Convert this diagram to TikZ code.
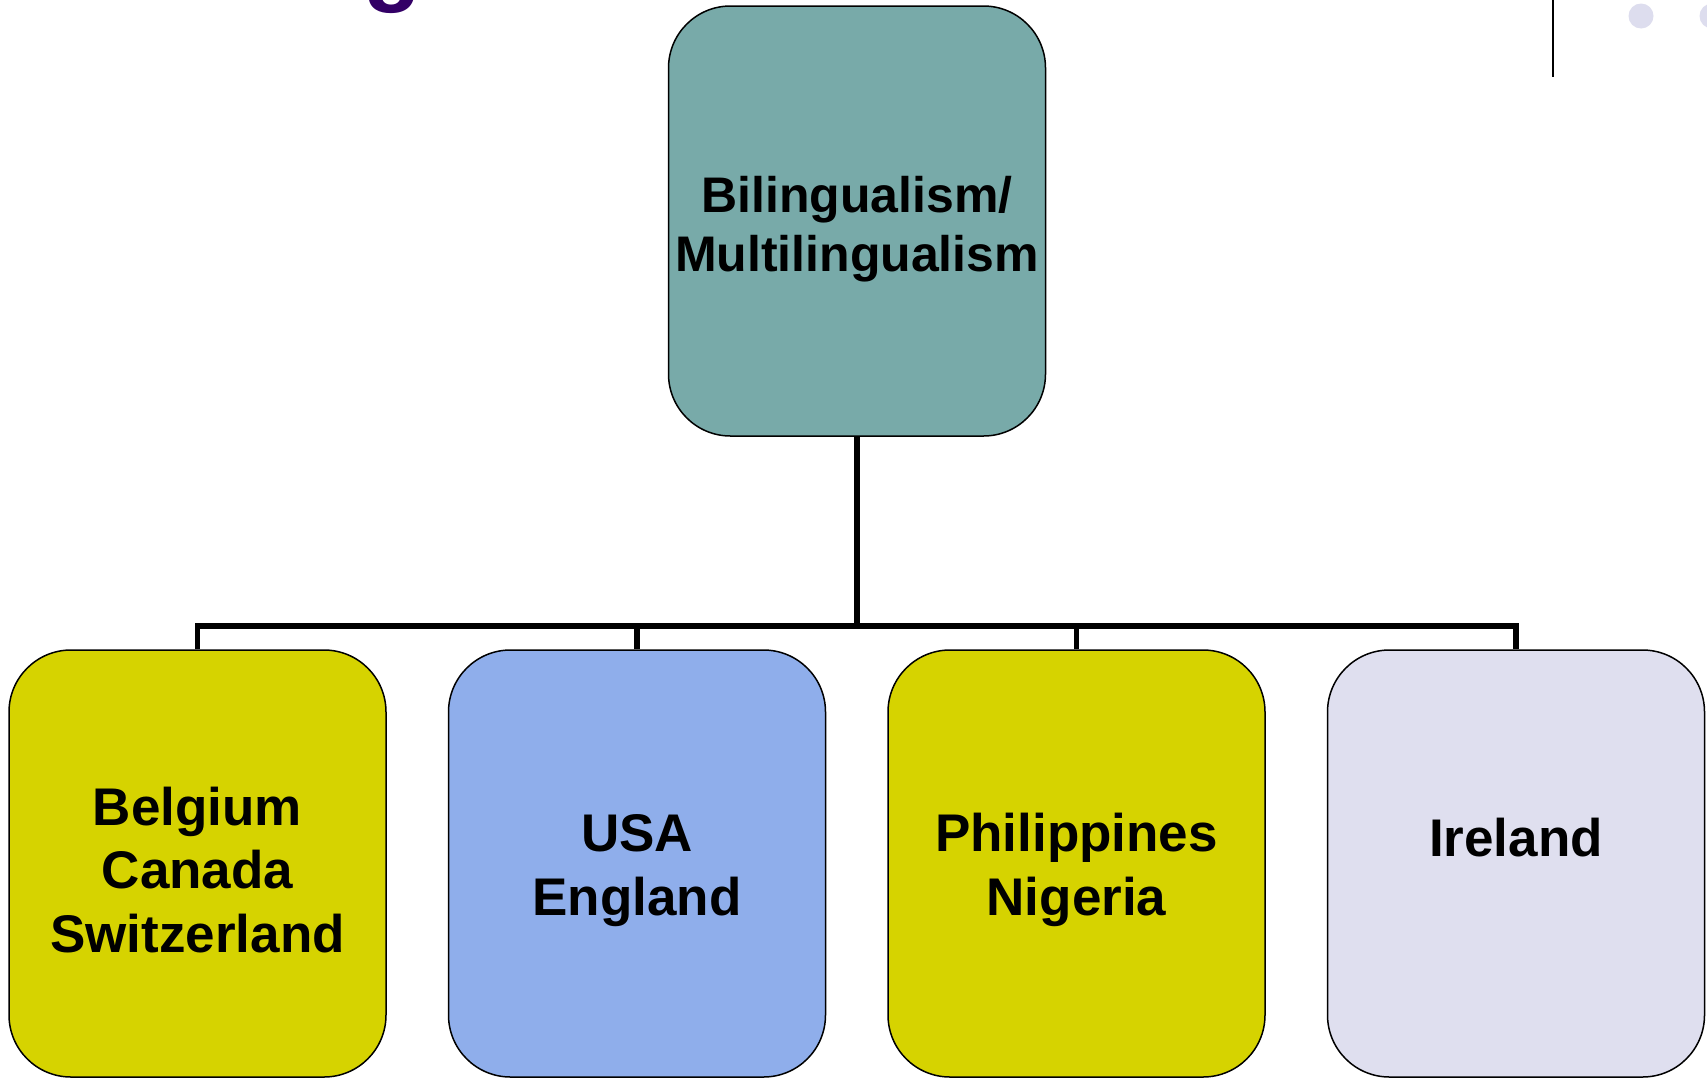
\documentclass[tikz,border=0pt]{standalone}
\usepackage{fontspec}
\setmainfont{Liberation Sans}
\definecolor{topteal}{HTML}{78AAA9}
\definecolor{olive}{HTML}{D6D300}
\definecolor{skyblue}{HTML}{8FAEEB}
\definecolor{lav}{HTML}{DFDFEF}
\definecolor{dotlav}{HTML}{DDDDEE}
\definecolor{titlepurple}{HTML}{330066}
\newcommand{\lowerby}[1]{\rule{0pt}{#1}}
\tikzset{
  box/.style={draw=black, line width=1.5pt, rounded corners=62pt, inner sep=0pt,
    minimum width=377pt, align=center, font=\bfseries\fontsize{53}{63.5}\selectfont},
  topbox/.style={box, minimum height=430pt, fill=topteal, font=\bfseries\fontsize{50}{59}\selectfont},
  leafbox/.style={box, minimum height=427pt},
  conn/.style={draw=black, line width=5.5pt},
}
\begin{document}
\begin{tikzpicture}[x=1pt,y=-1pt]
\useasboundingbox (0,0) rectangle (1707,1079);
\clip (0,0) rectangle (1707,1079);
\fill[white] (0,0) rectangle (1707,1079);
% cut-off title glyph
\node[anchor=base, inner sep=0pt, text=titlepurple, font=\bfseries\fontsize{95}{95}\selectfont] (ttl) at (393,-7) {g};
% top-right decoration
\coordinate (vt) at (1553,0);
\coordinate (vb) at (1553,77);
\draw[line width=2pt] (vt) -- (vb);
\fill[dotlav] (1641,16) circle (12.5);
\fill[dotlav] (1712,16) circle (12.5);
% nodes
\node[topbox] (top) at (857,221) {\lowerby{52pt}Bilingualism/\\Multilingualism};
\node[leafbox, fill=olive] (b1) at (197.5,863.5) {\lowerby{51pt}Belgium\\Canada\\Switzerland};
\node[leafbox, fill=skyblue] (b2) at (637,863.5) {\lowerby{51pt}USA\\England};
\node[leafbox, fill=olive] (b3) at (1076.5,863.5) {\lowerby{51pt}Philippines\\Nigeria};
\node[leafbox, fill=lav] (b4) at (1516,863.5) {\lowerby{50pt}Ireland\\\mbox{}};
% connectors
\coordinate (bus) at (0,626);
\draw[conn] (top.south) -- (top.south |- bus);
\draw[conn] (b1.north) -- (b1.north |- bus) -- (b4.north |- bus) -- (b4.north);
\draw[conn] (b2.north) -- (b2.north |- bus);
\draw[conn] (b3.north) -- (b3.north |- bus);
\end{tikzpicture}
\end{document}
